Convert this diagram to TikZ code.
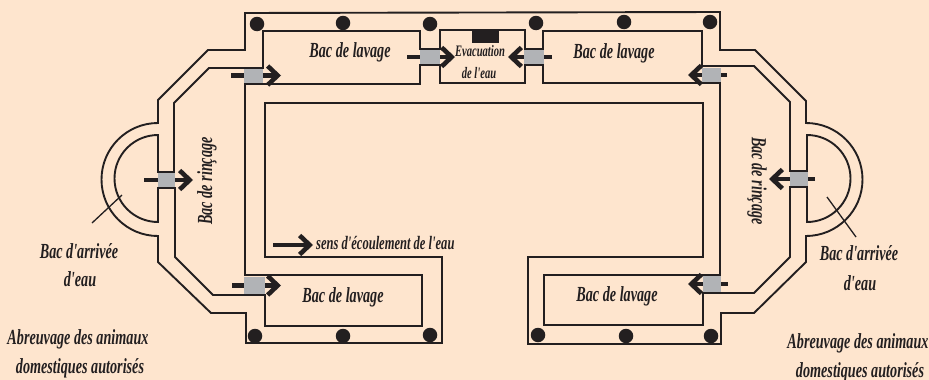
\documentclass[tikz,border=0pt]{standalone}
\usepackage{fontspec}
\newfontfamily\labelfont{Liberation Serif}[UprightFont=* Bold Italic,FakeStretch=0.66]
\usetikzlibrary{arrows.meta}
\definecolor{paper}{HTML}{FEE5CE}
\definecolor{ink}{HTML}{231F20}
\definecolor{gategray}{HTML}{B1B3B6}
\tikzset{
  wall/.style={draw=ink,line width=1.9pt,line join=miter},
  leader/.style={draw=ink,line width=1.3pt},
  flow/.style={draw=ink,line width=4.6pt,-{Straight Barb[length=10pt,width=19pt,line width=4.6pt]}},
  gate/.style={fill=gategray,inner sep=0pt},
  post/.style={circle,fill=ink,inner sep=0pt,minimum size=14.5pt},
  label/.style={text=ink,font=\labelfont\fontsize{21.5}{24}\selectfont,inner sep=0pt},
  senslabel/.style={text=ink,font=\labelfont\fontsize{19}{22}\selectfont,inner sep=0pt},
  smalllabel/.style={text=ink,font=\labelfont\fontsize{16}{18}\selectfont,inner sep=0pt}
}
\begin{document}
\begin{tikzpicture}[x=1pt,y=-1pt]
  \fill[paper] (0,0) rectangle (929,380);
  \useasboundingbox (0,0) rectangle (929,380);

  % gates with their arrows
  \foreach \name/\cx/\cy/\gw/\gh/\xfrom/\xto in {
      upleft/253.5/75.5/19/15/231/281,
      rinseleft/166/180/17/16/144/193,
      lowleft/254.5/285.5/21/17/232/281,
      evacleft/430/57/20/16/407/455,
      evacright/534/57/20/16/552/508,
      upright/711.5/75/19/15/727/688,
      rinseright/799/179/18/16/815/769,
      lowright/712/284/18/16/728/688} {
    \coordinate (tail\name) at (\xfrom,\cy);
    \coordinate (tip\name) at (\xto,\cy);
    \draw[flow] (tail\name) -- (tip\name);
    \node[gate,minimum width=\gw pt,minimum height=\gh pt] (gate\name) at (\cx,\cy) {};
  }

  % outer wall
  \draw[wall] (245,13) -- (245,50) -- (208,50) -- (158,100) -- (158,123)
    arc[start angle=90,end angle=270,radius=56.5pt]
    -- (158,262) -- (211,313) -- (246,313) -- (246,343) -- (442,343) -- (442,257)
    -- (265,257) -- (265,103) -- (703,103) -- (703,257) -- (528,257) -- (528,344)
    -- (721,344) -- (721,313) -- (754,313) -- (806,262) -- (806,236)
    arc[start angle=-90,end angle=90,radius=56.5pt]
    -- (806,101) -- (755,50) -- (720,50) -- (720,12) -- cycle;

  % inner wall
  \draw[wall] (158,135) -- (158,172) -- (174,172) -- (174,103) -- (209,68) -- (263,68)
    -- (263,31) -- (420,31) -- (420,49) -- (440,49) -- (440,30) -- (525,30) -- (525,49)
    -- (543,49) -- (543,31) -- (702,31) -- (702,66) -- (754,66) -- (790,102) -- (790,171)
    -- (807,171) -- (807,135)
    arc[start angle=90,end angle=-90,radius=43.5pt]
    -- (807,187) -- (790,187) -- (790,257) -- (754,293) -- (703,293) -- (703,325)
    -- (544,325) -- (544,275) -- (720,275) -- (720,83) -- (543,83) -- (543,65) -- (525,65)
    -- (525,83) -- (440,83) -- (440,65) -- (420,65) -- (420,84) -- (245,84) -- (245,275)
    -- (422,275) -- (422,326) -- (265,326) -- (265,295) -- (213,295) -- (175,257)
    -- (175,188) -- (158,188) -- (158,222)
    arc[start angle=270,end angle=90,radius=43.5pt] -- cycle;

  % posts
  \foreach \name/\cx/\cy in {a/257/24,b/343/23,c/430/24,d/536/23,e/624/22,f/710/22,
      g/255/336,h/343/336,i/430/335,j/538/335,k/626/336,l/711/336}
    \node[post] (post\name) at (\cx,\cy) {};

  \node[fill=ink,inner sep=0pt,minimum width=27pt,minimum height=12pt] (drain) at (485,37) {};

  % labels
  \node[label] (washtl) at (350,52) {Bac de lavage};
  \node[label] (washtr) at (614,53) {Bac de lavage};
  \node[label] (washbl) at (343,297) {Bac de lavage};
  \node[label] (washbr) at (617,296) {Bac de lavage};
  \node[smalllabel] (evacone) at (480,51) {Evacuation};
  \node[smalllabel] (evactwo) at (479,73) {de l'eau};
  \node[label,rotate=90] (rinseleft) at (207,181) {Bac de rinçage};
  \node[label,rotate=-90] (rinseright) at (757,181) {Bac de rinçage};

  \coordinate (senstail) at (273,245);
  \coordinate (senstip) at (313,245);
  \draw[flow] (senstail) -- (senstip);
  \node[senslabel,anchor=west] (sens) at (316,243) {sens d'écoulement de l'eau};

  \coordinate (crossla) at (92,223);
  \coordinate (crosslb) at (122,195);
  \draw[leader] (crossla) -- (crosslb);
  \coordinate (crossra) at (827,197);
  \coordinate (crossrb) at (856,237);
  \draw[leader] (crossra) -- (crossrb);

  \node[label] (inleftone) at (79,251) {Bac d'arrivée};
  \node[label] (inlefttwo) at (80,279) {d'eau};
  \node[label] (inrightone) at (859,253) {Bac d'arrivée};
  \node[label] (inrighttwo) at (860,283) {d'eau};
  \node[label] (animleftone) at (78,339) {Abreuvage des animaux};
  \node[label] (animlefttwo) at (80,368) {domestiques autorisés};
  \node[label] (animrightone) at (858,343) {Abreuvage des animaux};
  \node[label] (animrighttwo) at (860,372) {domestiques autorisés};
\end{tikzpicture}
\end{document}
